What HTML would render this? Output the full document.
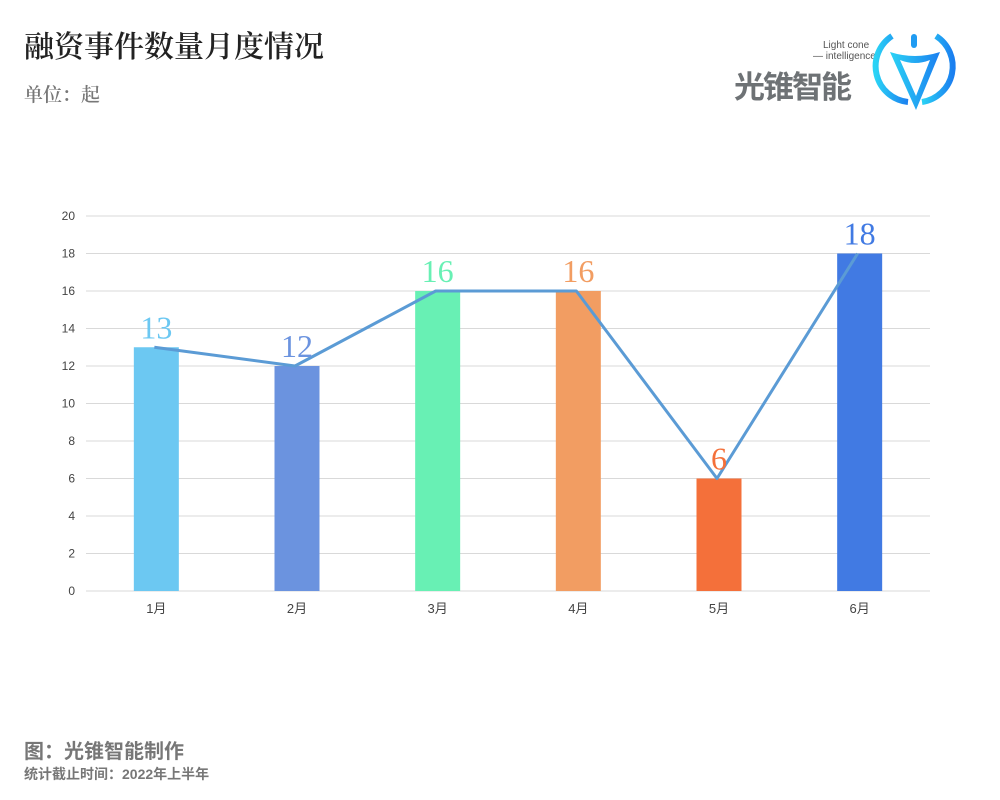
<!DOCTYPE html>
<html><head><meta charset="utf-8"><style>
body{margin:0;background:#fff;width:1000px;height:800px;overflow:hidden;position:relative;font-family:"Liberation Sans","Noto Sans CJK SC",sans-serif}
.t{position:absolute;white-space:nowrap}
</style></head><body>
<div class="t" style="left:24px;top:22px;font-size:30px;color:#222;font-family:'Noto Serif CJK SC',serif;font-weight:600">融资事件数量月度情况</div>
<div class="t" style="left:24px;top:80px;font-size:19px;color:#777;font-family:'Noto Serif CJK SC',serif;font-weight:600">单位：起</div>
<div style="position:absolute;left:730px;top:26px;width:230px;height:90px">
<div class="t" style="left:93px;top:14px;font-size:10px;color:#555">Light cone</div>
<div class="t" style="left:83px;top:25px;font-size:10px;color:#555">— intelligence</div>
<div class="t" style="left:4px;top:36px;font-size:31px;color:#6e7275;font-weight:bold;letter-spacing:-2px">光锥智能</div>
<svg style="position:absolute;left:140px;top:0" width="90" height="90" viewBox="0 0 90 90">
<defs><linearGradient id="g" x1="0" x2="1"><stop offset="0" stop-color="#2bd3f5"/><stop offset="1" stop-color="#1b7ff0"/></linearGradient></defs>
<path d="M22 10 A36 36 0 0 0 38 76" fill="none" stroke="url(#g)" stroke-width="6"/>
<path d="M66 10 A36 36 0 0 1 52 76" fill="none" stroke="url(#g)" stroke-width="6"/>
<rect x="41" y="8" width="6" height="14" rx="3" fill="#1f9bf2"/>
<path d="M20 26 Q45 34 70 26 L46 84 Z" fill="url(#g)"/>
<path d="M30 34 L46 70 L60 34 Q45 40 30 34Z" fill="#fff"/>
</svg></div>
<svg id="c" width="1000" height="800" style="position:absolute;left:0;top:0"></svg>
<div class="t" style="left:24px;top:735px;font-size:20px;color:#777;font-weight:bold">图：光锥智能制作</div>
<div class="t" style="left:24px;top:764px;font-size:14px;color:#777;font-weight:bold">统计截止时间：2022年上半年</div>
<script>
const categories=["1月","2月","3月","4月","5月","6月"];
const values=[13,12,16,16,6,18];
const colors=["#6cc8f2","#6b93df","#68f0b4","#f29d62","#f4703a","#417ae3"];
const ticks=[0,2,4,6,8,10,12,14,16,18,20];
const ns="http://www.w3.org/2000/svg",svg=document.getElementById('c');
const L=86,R=930,T=216,B=591,bw=(R-L)/categories.length;
const x=i=>L+bw*(i+0.5), y=v=>B-(B-T)*v/20;
function mk(t,a){const e=document.createElementNS(ns,t);for(const k in a)e.setAttribute(k,a[k]);svg.appendChild(e);return e;}
ticks.forEach(v=>{
 const l=mk('line',{x1:L,x2:R,y1:y(v),y2:y(v),stroke:'#d9d9d9','stroke-width':1});
 
 
 const t=mk('text',{x:75,y:y(v)+4,'text-anchor':'end','font-size':12,fill:'#444'});t.textContent=v;
 
 
});
categories.forEach((c,i)=>{
 const r=mk('rect',{x:x(i)-22.5,y:y(values[i]),width:45,height:B-y(values[i]),fill:colors[i]});
 
 
 const t=mk('text',{x:x(i),y:B+22,'text-anchor':'middle','font-size':13,fill:'#444'});t.textContent=c;
 
 
});
const p=mk('polyline',{points:values.map((v,i)=>(x(i)-2)+','+y(v)).join(' '),fill:'none',stroke:'#5b9bd5','stroke-width':3,'stroke-linejoin':'round'});


values.forEach((v,i)=>{
 const t=mk('text',{x:x(i),y:y(v)-9,'text-anchor':'middle','font-size':32,fill:colors[i],'font-family':'Liberation Serif, serif'});t.textContent=v;
 
 
});
</script>
</body></html>
